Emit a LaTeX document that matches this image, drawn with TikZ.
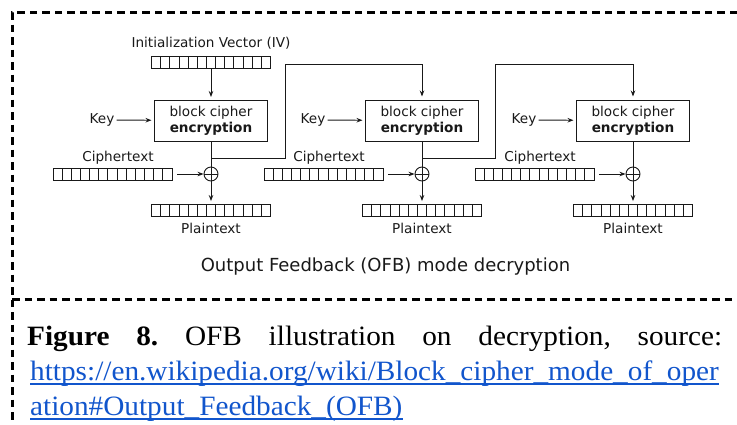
\documentclass[tikz,border=0pt]{standalone}
\usepackage{fontspec}
\setmainfont{Liberation Serif}
\newfontfamily\diagfont{DejaVu Sans}
\usetikzlibrary{arrows.meta,calc}
\definecolor{ink}{RGB}{25,25,25}
\definecolor{linkblue}{RGB}{17,85,204}

\tikzset{
  diag/.style={font=\diagfont\fontsize{13.6}{16}\selectfont, text=ink},
  cipherbox/.style={diag, draw=ink, line width=1pt, minimum width=113pt,
    minimum height=41pt, inner sep=0pt, align=center},
  reg/.style={draw=ink, line width=0.9pt, minimum width=119pt, minimum height=12pt,
    inner sep=0pt,
    path picture={
      \foreach \k in {1,...,12}{
        \draw[ink, line width=0.9pt]
          ($(path picture bounding box.south west)!\k/13!(path picture bounding box.south east)$)
          -- ($(path picture bounding box.north west)!\k/13!(path picture bounding box.north east)$);
      }}},
  xorop/.style={circle, draw=ink, line width=0.9pt, minimum size=14pt, inner sep=0pt,
    path picture={
      \draw[ink, line width=0.9pt] (path picture bounding box.north) -- (path picture bounding box.south)
        (path picture bounding box.west) -- (path picture bounding box.east);}},
  flow/.style={draw=ink, line width=0.9pt, -{Stealth[length=6pt,width=4.5pt]}},
  wire/.style={draw=ink, line width=0.9pt},
  lbl/.style={diag, inner sep=2pt},
  borderdash/.style={line width=3pt, dash pattern=on 7.5pt off 5pt},
  captext/.style={font=\fontsize{28}{34}\selectfont, anchor=base west, inner sep=0pt,
    xscale=1.045, transform shape},
}

\begin{document}
\frenchspacing
\begin{tikzpicture}[x=1pt, y=-1pt]
\useasboundingbox (0,0) rectangle (737,424);

% dashed frame around figure and caption
\draw[borderdash] (737,12) -- (12,12) -- (12,424);
\draw[borderdash] (12,299) -- (737,299);

% initialization vector
\node[lbl] (ivlabel) at (211,43) {Initialization Vector (IV)};
\node[reg] (iv) at (211,62.5) {};

% three decryption stages
\foreach \i/\c in {1/211, 2/422, 3/633}{
  \node[cipherbox] (box\i) at (\c,120.5) {block cipher\\\textbf{encryption}};
  \node[lbl] (key\i) at (\c-109,120) {Key};
  \node[lbl] (ctlabel\i) at (\c-93,158) {Ciphertext};
  \node[reg] (ct\i) at (\c-98.5,174) {};
  \node[xorop] (xor\i) at (\c,174) {};
  \node[reg] (pt\i) at (\c,210) {};
  \node[lbl] (ptlabel\i) at (\c,228) {Plaintext};
  \coordinate (tap\i) at (\c,158);
  \draw[flow, shorten >=2.5pt] (key\i) -- (box\i);
  \draw[wire] (box\i) -- (xor\i);
  \draw[flow, shorten <=5pt] (ct\i) -- (xor\i);
  \draw[flow, shorten >=2.5pt] (xor\i) -- (pt\i);
}

\draw[flow, shorten >=2.5pt] (iv) -- (box1);

% output feedback into the next stage
\coordinate (turn1) at (285,64.5);
\coordinate (turn2) at (495,64.5);
\draw[flow, shorten >=3pt] (tap1) -| (turn1) -| (box2.north);
\draw[flow, shorten >=3pt] (tap2) -| (turn2) -| (box3.north);

\node[diag, font=\diagfont\fontsize{18}{20}\selectfont] (title) at (385.5,267) {Output Feedback (OFB) mode decryption};

% caption
\node[captext] (cap1) at (27,345) {\makebox[665pt][s]{\textbf{Figure 8.} OFB illustration on decryption, source:}};
\node[captext, text=linkblue] (cap2) at (30,380) {https://en.wikipedia.org/wiki/Block\_cipher\_mode\_of\_oper};
\node[captext, text=linkblue] (cap3) at (30,415) {ation\#Output\_Feedback\_(OFB)};
\draw[linkblue, line width=2pt] ($(cap2.base west)+(0,4)$) -- ($(cap2.base east)+(0,4)$);
\draw[linkblue, line width=2pt] ($(cap3.base west)+(0,4)$) -- ($(cap3.base east)+(0,4)$);
\end{tikzpicture}
\end{document}
